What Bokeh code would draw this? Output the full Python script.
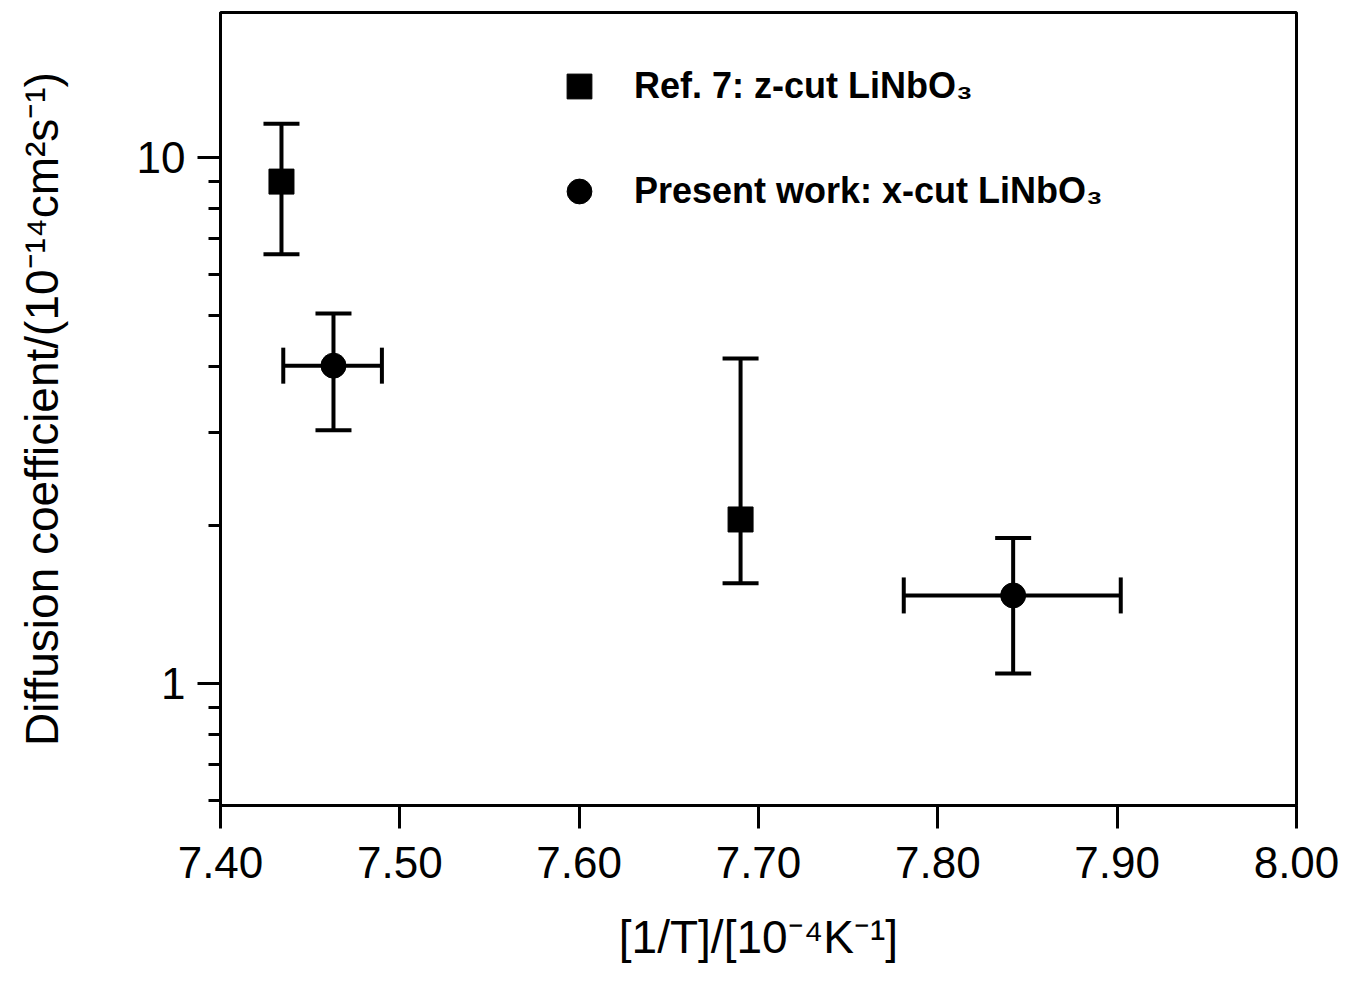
from bokeh.plotting import figure
from bokeh.models import (ColumnDataSource, Whisker, TeeHead, FixedTicker,
                          PrintfTickFormatter, Legend, LegendItem, Range1d)
from bokeh.embed import file_html
from bokeh.resources import INLINE

# Ref. 7: z-cut LiNbO3 (squares)
ref_x = [7.434, 7.690]
ref_y = [9.0, 2.05]
ref_ylo = [6.55, 1.55]
ref_yhi = [11.6, 4.15]

# Present work: x-cut LiNbO3 (circles)
pw_x = [7.463, 7.842]
pw_y = [4.02, 1.47]
pw_ylo = [3.03, 1.045]
pw_yhi = [5.05, 1.89]
pw_xlo = [7.435, 7.781]
pw_xhi = [7.490, 7.902]

x_ticks = [7.40, 7.50, 7.60, 7.70, 7.80, 7.90, 8.00]
y_ticks = [1, 10]
y_minor = [0.6, 0.7, 0.8, 0.9, 2, 3, 4, 5, 6, 7, 8, 9]

FONT = "Liberation Sans"

p = figure(width=1360, height=987, y_axis_type="log",
           x_range=Range1d(7.40, 8.00), y_range=Range1d(0.586, 18.87),
           output_backend="svg", toolbar_location=None,
           min_border_left=220, min_border_right=64,
           min_border_top=12, min_border_bottom=182)
p.grid.visible = False
p.outline_line_color = "black"
p.outline_line_width = 3
p.background_fill_color = "white"
p.border_fill_color = "white"

ref_src = ColumnDataSource(dict(x=ref_x, y=ref_y, lo=ref_ylo, hi=ref_yhi))
pw_src = ColumnDataSource(dict(x=pw_x, y=pw_y, lo=pw_ylo, hi=pw_yhi,
                               xlo=pw_xlo, xhi=pw_xhi))

def whisk(src, base, lo, hi, dim):
    w = Whisker(source=src, base=base, lower=lo, upper=hi, dimension=dim,
                line_color="black", line_width=4,
                upper_head=TeeHead(size=36, line_width=4, line_color="black"),
                lower_head=TeeHead(size=36, line_width=4, line_color="black"))
    p.add_layout(w)

whisk(ref_src, "x", "lo", "hi", "height")
whisk(pw_src, "x", "lo", "hi", "height")
whisk(pw_src, "y", "xlo", "xhi", "width")

r_sq = p.scatter("x", "y", source=ref_src, marker="square", size=25,
                 fill_color="black", line_color="black")
r_ci = p.scatter("x", "y", source=pw_src, marker="circle", size=25,
                 fill_color="black", line_color="black")

legend = Legend(items=[LegendItem(label="Ref. 7: z-cut LiNbO\u2083", renderers=[r_sq]),
                       LegendItem(label="Present work: x-cut LiNbO\u2083", renderers=[r_ci])],
                location=(328, 583), glyph_width=62, glyph_height=62,
                spacing=43, label_standoff=24, padding=0, margin=0,
                border_line_color=None, background_fill_alpha=0,
                label_text_font=FONT, label_text_font_size="36px",
                label_text_font_style="bold", label_text_color="black")
p.add_layout(legend)

# axes
xa = p.xaxis[0]
xa.ticker = FixedTicker(ticks=x_ticks, minor_ticks=[])
xa.formatter = PrintfTickFormatter(format="%.2f")
ya = p.yaxis[0]
ya.ticker = FixedTicker(ticks=y_ticks, minor_ticks=y_minor)
ya.formatter = PrintfTickFormatter(format="%d")

for ax in (xa, ya):
    ax.axis_line_width = 3
    ax.axis_line_color = "black"
    ax.major_tick_line_width = 3
    ax.minor_tick_line_width = 3
    ax.major_tick_in = 0
    ax.minor_tick_in = 0
    ax.major_tick_out = 23
    ax.minor_tick_out = 12
    ax.major_label_text_font = FONT
    ax.major_label_text_font_size = "44px"
    ax.major_label_text_color = "black"
    ax.axis_label_text_font = FONT
    ax.axis_label_text_font_style = "normal"
    ax.axis_label_text_color = "black"

xa.major_label_standoff = 18
xa.axis_label = "[1/T]/[10\u207b\u2074K\u207b\u00b9]"
xa.axis_label_text_font_size = "46px"
xa.axis_label_standoff = 30

ya.major_label_standoff = 12
ya.axis_label = "Diffusion coefficient/(10\u207b\u00b9\u2074cm\u00b2s\u207b\u00b9)"
ya.axis_label_text_font_size = "46px"
ya.axis_label_standoff = 66

open("out.html", "w").write(file_html(p, INLINE))
